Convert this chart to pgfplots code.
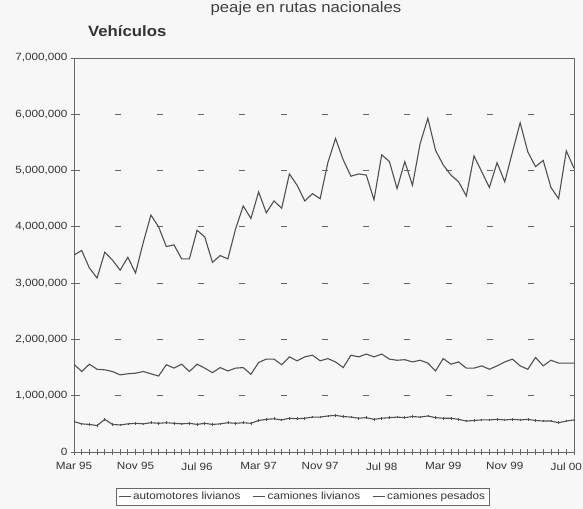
\documentclass[border=0pt]{standalone}
\usepackage{fontspec}
\setmainfont[FakeStretch=1.12]{Liberation Sans}
\usepackage{pgfplots}
\pgfplotsset{compat=1.18}
\usepackage{pgfplotstable}
\definecolor{ser}{RGB}{80,80,80}
\definecolor{bgc}{RGB}{247,247,247}
\pgfplotstableread{
i auto liv pes
0 3500000 1560000 540000
1 3580000 1430000 500000
2 3270000 1560000 490000
3 3090000 1470000 470000
4 3550000 1460000 580000
5 3410000 1430000 490000
6 3230000 1370000 480000
7 3460000 1390000 500000
8 3180000 1400000 510000
9 3720000 1430000 500000
10 4210000 1390000 520000
11 4000000 1350000 510000
12 3650000 1550000 520000
13 3680000 1490000 510000
14 3430000 1560000 500000
15 3430000 1430000 510000
16 3940000 1560000 490000
17 3820000 1490000 510000
18 3370000 1410000 490000
19 3490000 1500000 500000
20 3430000 1440000 520000
21 3960000 1490000 510000
22 4370000 1500000 520000
23 4150000 1380000 510000
24 4620000 1590000 560000
25 4250000 1650000 580000
26 4460000 1650000 590000
27 4330000 1550000 570000
28 4940000 1690000 600000
29 4740000 1620000 590000
30 4460000 1690000 600000
31 4590000 1720000 620000
32 4500000 1620000 620000
33 5140000 1660000 640000
34 5570000 1600000 650000
35 5190000 1500000 630000
36 4900000 1720000 620000
37 4940000 1690000 600000
38 4920000 1740000 610000
39 4480000 1690000 580000
40 5280000 1740000 600000
41 5160000 1650000 610000
42 4680000 1630000 620000
43 5160000 1640000 610000
44 4740000 1600000 630000
45 5480000 1630000 620000
46 5930000 1580000 640000
47 5360000 1440000 610000
48 5100000 1660000 600000
49 4920000 1560000 600000
50 4800000 1600000 580000
51 4550000 1490000 550000
52 5260000 1490000 560000
53 4980000 1530000 570000
54 4700000 1470000 570000
55 5140000 1530000 580000
56 4800000 1600000 570000
57 5330000 1650000 580000
58 5850000 1530000 570000
59 5330000 1470000 580000
60 5070000 1680000 560000
61 5180000 1530000 550000
62 4700000 1630000 550000
63 4500000 1580000 520000
64 5350000 1580000 550000
65 5040000 1580000 570000
}\datatable
\begin{document}
\begin{tikzpicture}
\useasboundingbox (0bp,0bp) rectangle (583bp,509bp);
\fill[bgc] (0bp,0bp) rectangle (583bp,509bp);
\node[anchor=base, font=\fontsize{15}{18}\selectfont, text=black!75, inner sep=0pt] at (306bp,496bp) {peaje en rutas nacionales};
\node[anchor=base west, font=\fontsize{15}{18}\selectfont\bfseries, text=black!80, inner sep=0pt] at (88bp,472bp) {Vehículos};
\begin{axis}[
  at={(74bp,57bp)}, anchor=south west,
  scale only axis, width=500bp, height=394bp,
  xmin=0, xmax=65, ymin=0, ymax=7000000,
  axis line style={black!60, line width=0.8bp},
  xtick={0,8,...,64},
  xticklabels={Mar 95,Nov 95,Jul 96,Mar 97,Nov 97,Jul 98,Mar 99,Nov 99,Jul 00},
  minor xtick={0,...,65},
  ytick={0,1000000,...,7000000},
  xtick pos=bottom, ytick pos=left,
  tick align=center,
  major tick length=6bp, minor tick length=6bp,
  tick style={black!60, line width=0.8bp},
  scaled y ticks=false,
  yticklabel style={/pgf/number format/fixed, /pgf/number format/1000 sep={,}},
  /pgf/number format/assume math mode=true,
  ticklabel style={font=\fontsize{10.5}{12}\selectfont, text=black!80},
  xticklabel style={yshift=-4bp},
  ymajorgrids,
  grid style={dash pattern=on 6bp off 35.3bp, black!60, line width=1bp},
  legend columns=3,
  legend style={at={(0.457,-0.114)}, anchor=center, draw=black!60, fill=white,
    font=\fontsize{10.5}{12}\selectfont, text=black!80, inner sep=2bp,
    /tikz/every even column/.append style={column sep=10bp}},
  legend image code/.code={\draw[#1] (0bp,0bp) -- (12bp,0bp);},
]
\addplot[ser, line width=1.1bp] table[x=i, y=auto] {\datatable};
\addlegendentry{automotores livianos}
\addplot[ser, line width=1.1bp] table[x=i, y=liv] {\datatable};
\addlegendentry{camiones livianos}
\addplot[ser, line width=1.1bp, mark=|, mark size=1.3bp, mark options={ser, line width=0.6bp}] table[x=i, y=pes] {\datatable};
\addlegendentry{camiones pesados}
\end{axis}
\end{tikzpicture}
\end{document}
